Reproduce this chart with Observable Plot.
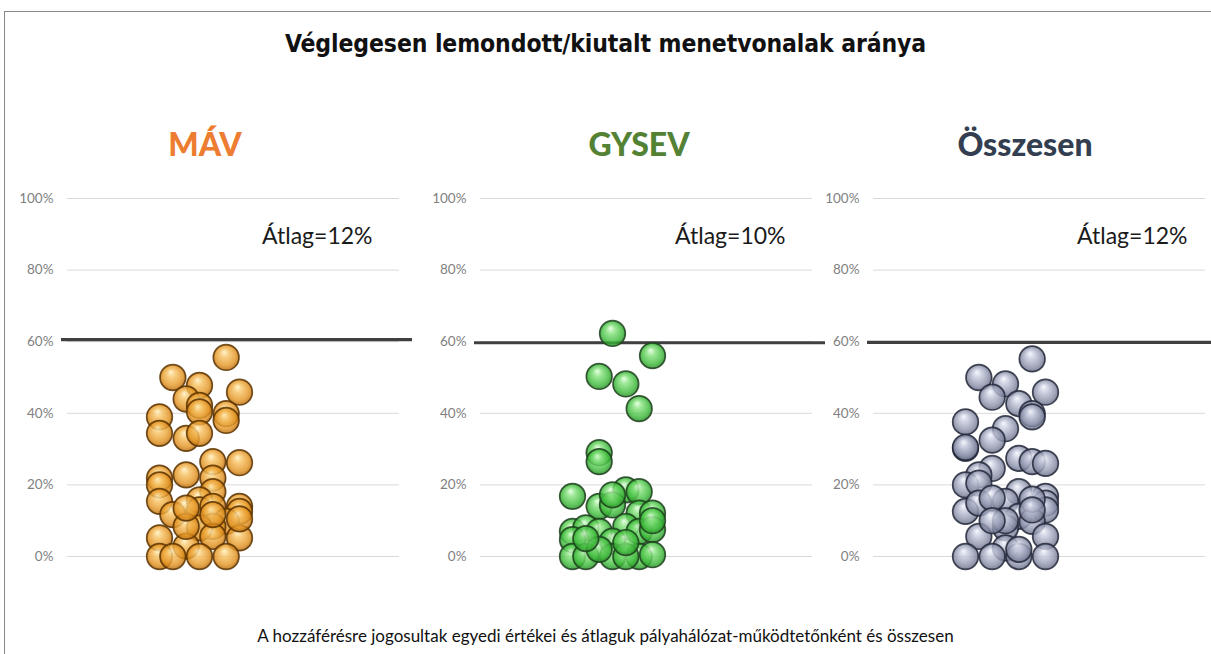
<!DOCTYPE html>
<html>
<head>
<meta charset="utf-8">
<script src="https://cdn.jsdelivr.net/npm/d3@7"></script>
<script src="https://cdn.jsdelivr.net/npm/@observablehq/plot@0.6"></script>
<style>
  html, body { margin: 0; padding: 0; background: #fff; }
  #root { position: relative; width: 1211px; height: 654px; overflow: hidden; background: #fff; }
  #frame { position: absolute; left: 4px; top: 11px; width: 1300px; height: 700px; border-left: 1.5px solid #8a8a8a; border-top: 1.5px solid #8a8a8a; }
  .ttl { position: absolute; left: 0; width: 1211px; text-align: center; color: #111; }
  #title { top: 29px; font-family: "DejaVu Sans Condensed", "DejaVu Sans", sans-serif; font-weight: bold; font-size: 24.5px; letter-spacing: -0.1px; }
  #caption { top: 625px; font-family: "Lato", sans-serif; font-size: 17px; }
  .ptitle { position: absolute; top: 124px; width: 300px; margin-left: -150px; text-align: center; font-family: "Lato", sans-serif; font-weight: 900; font-size: 32px; }
  .panel { position: absolute; top: 180px; }
</style>
</head>
<body>
<div id="root">
  <div id="frame"></div>
  <div class="ttl" id="title">Véglegesen lemondott/kiutalt menetvonalak aránya</div>
  <div class="ttl" id="caption">A hozzáférésre jogosultak egyedi értékei és átlaguk pályahálózat-működtetőnként és összesen</div>
</div>
<script>
// ---- data ----
const panelNames = ["MÁV", "GYSEV", "Összesen"];
const averages = [12, 10, 12];          // "Átlag" values (%)
const thresholds = [60.6, 59.7, 59.8];  // horizontal limit line (%)
const yTicks = [0, 20, 40, 60, 80, 100];

// individual values (%) and their swarm column (0..6)
const mavValues = [55.6, 50, 47.8, 45.9, 44, 42.2, 40.4, 39.9, 38, 39, 34.4, 33, 34.4, 26.5, 26.2, 22.8, 21.9, 20, 21.9, 18.1, 15.4, 15.8, 11.7, 13, 14, 14, 12.6, 9.8, 8.4, 8, 5.2, 5.2, 2.9, 5.6, 0, 0, 0, 0, 8.4, 11.7, 10.5, 13.5];
const mavCols   = [5, 1, 3, 6, 2, 3, 3, 5, 5, 0, 0, 2, 3, 4, 6, 2, 0, 0, 4, 4, 0, 3, 1, 3, 4, 6, 6, 5, 4, 3, 6, 0, 2, 4, 0, 1, 3, 5, 2, 4, 6, 2];

const gysevValues = [62.3, 56.1, 50.3, 48.2, 41.3, 29, 26.5, 16.8, 18.6, 18.1, 14, 14.4, 17.2, 12.1, 12.1, 7, 8, 7, 8.4, 7, 7.5, 4.7, 4.3, 0, 0, 0, 0, 0.5, 0, 3.9, 2, 10, 5];
const gysevCols   = [3, 6, 2, 4, 5, 2, 2, 0, 4, 5, 2, 3, 3, 5, 6, 0, 1, 2, 4, 5, 6, 0, 3, 0, 1, 3, 5, 6, 4, 4, 2, 6, 1];

const totalValues = [55.2, 50, 48.2, 45.9, 44.5, 42.7, 39.9, 39, 37.6, 35.7, 32.5, 30.2, 30.5, 27.4, 26.5, 26, 24.6, 22.8, 20, 20.5, 18.1, 15.4, 16.8, 14.9, 13, 12.6, 11.2, 9.8, 8, 5.6, 5.6, 2.4, 0, 0, 0, 0, 14.9, 16.3, 16, 10, 10, 2, 13];
const totalCols   = [5, 1, 3, 6, 2, 4, 5, 5, 0, 3, 2, 0, 0, 4, 5, 6, 2, 1, 0, 1, 4, 3, 6, 6, 6, 0, 4, 5, 3, 1, 6, 3, 0, 2, 4, 6, 1, 2, 5, 3, 2, 4, 5];

// ---- styling / layout (not data) ----
const panels = [
  {name: panelNames[0], values: mavValues, cols: mavCols, avg: averages[0], thr: thresholds[0], left: 7,   titleX: 205,  titleColor: "#ED7D31", avgDx: -27,
   stops: ["#fff2c4", "#f7c264", "#e39524", "#a95f05"], stroke: "#5a3200", id: "gm"},
  {name: panelNames[1], values: gysevValues, cols: gysevCols, avg: averages[1], thr: thresholds[1], left: 420, titleX: 639,  titleColor: "#548235", avgDx: -27,
   stops: ["#e6ffe2", "#86e27e", "#3fbb3c", "#1f7f1f"], stroke: "#1d3f1d", id: "gg"},
  {name: panelNames[2], values: totalValues, cols: totalCols, avg: averages[2], thr: thresholds[2], left: 813, titleX: 1025, titleColor: "#333F50", avgDx: -18,
   stops: ["#f5f7fd", "#c4c9dc", "#8c92aa", "#5b617a"], stroke: "#23283a", id: "gt"}
];

const root = document.getElementById("root");

panels.forEach(p => {
  const t = document.createElement("div");
  t.className = "ptitle";
  t.style.left = p.titleX + "px";
  t.style.color = p.titleColor;
  t.textContent = p.name;
  root.appendChild(t);

  const data = p.values.map((v, i) => ({value: v, col: p.cols[i]}));

  const chart = Plot.plot({
    width: 406,
    height: 396,
    marginLeft: 60,
    marginRight: 14,
    marginTop: 18,
    marginBottom: 20,
    style: {background: "transparent", fontFamily: "Lato, sans-serif", overflow: "visible"},
    x: {domain: [-6.9, 18], axis: null},
    y: {domain: [0, 100], axis: null},
    marks: [
      Plot.gridY(yTicks, {stroke: "#d9d9d9", strokeOpacity: 1, strokeWidth: 1}),
      Plot.axisY(yTicks, {label: null, tickSize: 0, tickPadding: 14, tickFormat: d => d + "%", fontSize: 13.5, fill: "#7f7f7f", fontFamily: "Lato, sans-serif"}),
      Plot.ruleY([p.thr], {stroke: "#404040", strokeWidth: 3.2, insetLeft: -6, insetRight: -13}),
      Plot.dot(data, {x: "col", y: "value", r: 12.8, fill: `url(#${p.id})`, fillOpacity: 0.82, stroke: p.stroke, strokeWidth: 1.7, strokeOpacity: 0.85, clip: false}),
      Plot.text([p.avg], {text: d => `Átlag=${d}%`, frameAnchor: "top-right", textAnchor: "end", lineAnchor: "middle", dx: p.avgDx, dy: 38, fontSize: 23, fill: "#1a1a1a", fontFamily: "Lato, sans-serif"})
    ]
  });

  const ns = "http://www.w3.org/2000/svg";
  const defs = document.createElementNS(ns, "defs");
  defs.innerHTML = `<radialGradient id="${p.id}" cx="0.5" cy="0.5" r="0.55" fx="0.42" fy="0.28">
      <stop offset="0" stop-color="${p.stops[0]}"/>
      <stop offset="0.3" stop-color="${p.stops[1]}"/>
      <stop offset="0.72" stop-color="${p.stops[2]}"/>
      <stop offset="1" stop-color="${p.stops[3]}"/>
    </radialGradient>`;
  chart.insertBefore(defs, chart.firstChild);

  chart.classList.add("panel");
  chart.style.left = p.left + "px";
  chart.style.position = "absolute";
  chart.style.top = "180px";
  root.appendChild(chart);
});
</script>
</body>
</html>
